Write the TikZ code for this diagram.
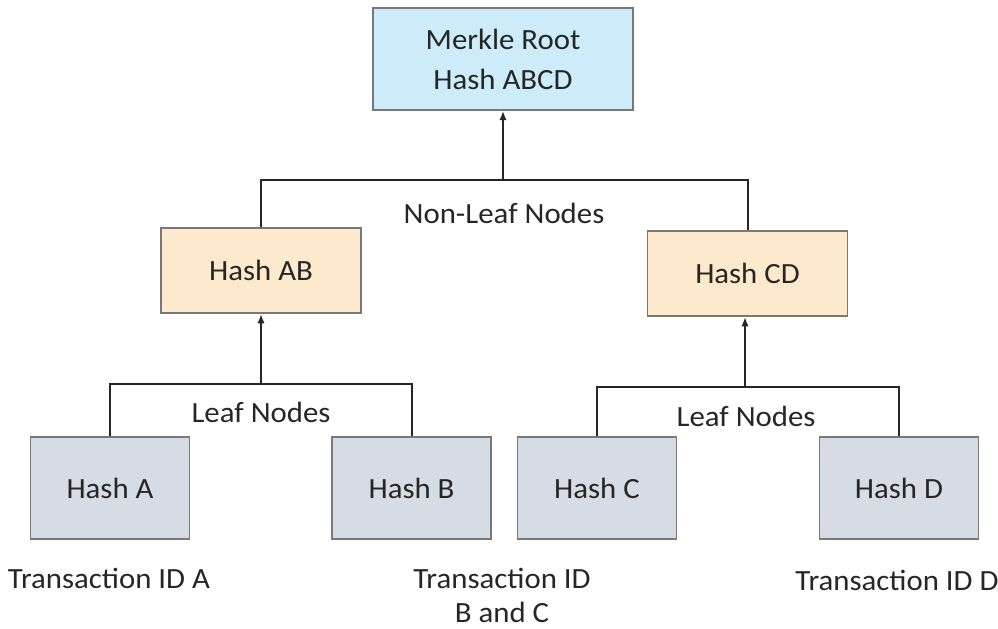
\documentclass[tikz,border=0pt]{standalone}
\usepackage{fontspec}
\setmainfont[FakeStretch=1.05]{Carlito}
\usepackage{xcolor}
\usetikzlibrary{arrows.meta,positioning}

\definecolor{rootblue}{RGB}{204,236,250}
\definecolor{midtan}{RGB}{253,233,203}
\definecolor{leafgray}{RGB}{214,220,228}
\definecolor{edgegray}{RGB}{120,120,120}
\definecolor{inkdark}{RGB}{38,38,38}

\tikzset{
  hashbox/.style={draw=edgegray,line width=1.2pt,text=inkdark,
    font=\fontsize{22}{30}\selectfont,align=center,inner sep=0pt},
  rootbox/.style={hashbox,fill=rootblue,minimum width=195pt,minimum height=76.5pt},
  midbox/.style={hashbox,fill=midtan,minimum width=150pt,minimum height=64pt},
  leafbox/.style={hashbox,fill=leafgray,minimum width=119pt,minimum height=76.5pt},
  tag/.style={text=inkdark,font=\fontsize{22}{25.5}\selectfont,align=center,inner sep=0pt},
  link/.style={line width=1.5pt,draw=inkdark},
  up/.style={link,-{Latex[length=7pt,width=5.5pt]}}
}

\begin{document}
\begin{tikzpicture}[x=0.75pt,y=-0.75pt]
\useasboundingbox (0,0) rectangle (998,628);
% boxes
\node[rootbox] (root) at (503,59) {Merkle Root\\Hash ABCD};
\node[midbox] (hAB) at (261,270.5) {Hash AB};
\node[midbox] (hCD) at (747.5,273.5) {Hash CD};
\node[leafbox] (hA) at (110,488) {Hash A};
\node[leafbox] (hB) at (411.5,488) {Hash B};
\node[leafbox] (hC) at (597,488) {Hash C};
\node[leafbox] (hD) at (899,488) {Hash D};
% joints
\coordinate (jRoot) at (503,180);
\coordinate (jAB) at (261,384);
\coordinate (jCD) at (745,387);
% tree lines
\draw[link] (hAB.north) -- (hAB.north |- jRoot) -- (hCD.north |- jRoot) -- (hCD.north);
\draw[up] (jRoot) -- (root.south);
\draw[link] (hA.north) -- (hA.north |- jAB) -- (hB.north |- jAB) -- (hB.north);
\draw[up] (jAB) -- (hAB.south);
\draw[link] (hC.north) -- (hC.north |- jCD) -- (hD.north |- jCD) -- (hD.north);
\draw[up] (jCD) -- (jCD |- hCD.south);
% labels
\node[tag] (nonleaf) at (504,213) {Non-Leaf Nodes};
\node[tag] (leafL) at (261,412) {Leaf Nodes};
\node[tag] (leafR) at (746,416) {Leaf Nodes};
\node[tag] (txA) at (109,578) {Transaction ID A};
\node[tag] (txBC) at (502,595) {Transaction ID\\B and C};
\node[tag] (txD) at (897,580) {Transaction ID D};
\end{tikzpicture}
\end{document}
